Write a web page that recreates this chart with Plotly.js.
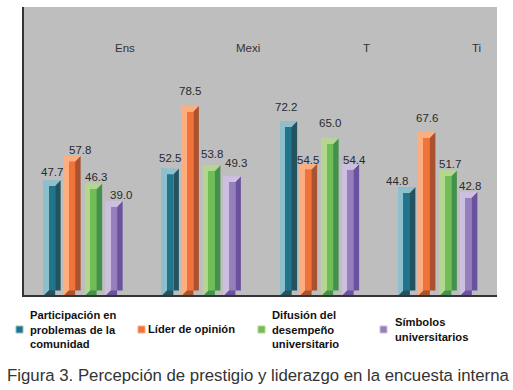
<!DOCTYPE html>
<html><head><meta charset="utf-8">
<script src="https://cdn.plot.ly/plotly-3.0.1.min.js"></script>
<style>html,body{margin:0;padding:0;background:#fff}</style></head>
<body><div id="chart" style="width:513px;height:390px"></div>
<script>
const categories = ['Ens', 'Mexi', 'T', 'Ti'];
const participacion = [47.7, 52.5, 72.2, 44.8];
const lider = [57.8, 78.5, 54.5, 67.6];
const difusion = [46.3, 53.8, 65.0, 51.7];
const simbolos = [39.0, 49.3, 54.4, 42.8];
const seriesNames = ['Participación en<br>problemas de la<br>comunidad', 'Líder de opinión', 'Difusión del<br>desempeño<br>universitario', 'Símbolos<br>universitarios'];
const caption = 'Figura 3. Percepción de prestigio y liderazgo en la encuesta interna';

const W = 513, H = 390, L = 24, R = 16, T = 7, B = 95;
const plotW = W - L - R, plotH = H - T - B;
const pxPerUnitY = 2.41, yMax = plotH / pxPerUnitY, pxPerX = plotW / 4;
const ux = p => p / pxPerX, uy = p => p / pxPerUnitY;

const palette = [
  {front:'#20758d', light:'#8dbfcc', dark:'#24525f'},
  {front:'#f1733a', light:'#fbae80', dark:'#a8522f'},
  {front:'#71bd58', light:'#b4d78f', dark:'#44904d'},
  {front:'#957fbc', light:'#cdbfdf', dark:'#6a52a0'}
];
const values = [participacion, lider, difusion, simbolos];
const seriesOffsetPx = [-40, -20, 1.5, 22];
const barW = 17.5, lightW = 5.5, frontW = 6.5, depth = 5.7, floor = 4.5;
const gx = categories.map((c, i) => i);
const traces = [];
const polyTrace = (xs, ys, color) => ({type:'scatter', mode:'none', x:xs, y:ys, fill:'toself', fillcolor:color, hoverinfo:'skip', showlegend:false});

values.forEach((vals, s) => {
  const c = palette[s], x0 = seriesOffsetPx[s];
  traces.push({type:'bar', x:gx, y:vals, base:0, offset:ux(x0), width:ux(lightW + 0.5), marker:{color:c.light, line:{width:0}}, hoverinfo:'skip', showlegend:false});
  traces.push({type:'bar', x:gx, y:vals.map(v => v - uy(depth) - uy(floor)), base:uy(floor), offset:ux(x0 + lightW), width:ux(frontW), marker:{color:c.front, line:{width:0}}, name:seriesNames[s].replace(/<br>/g,' '), showlegend:false});
  let tx = [], ty = [], sx = [], sy = [];
  gx.forEach((g, i) => {
    const v = vals[i], a = g + ux(x0), b = g + ux(x0 + lightW), m = g + ux(x0 + lightW + frontW), e = g + ux(x0 + barW);
    tx.push(a, e, m, b, a, null); ty.push(v, v, v - uy(depth), v - uy(depth), v, null);
    sx.push(e, e, m, m, e, null); sy.push(v, 0, 0, v - uy(depth), v, null);
    sx.push(a + ux(1), e, e, b, a + ux(1), null); sy.push(0, 0, uy(floor), uy(floor), 0, null);
  });
  traces.push(polyTrace(sx, sy, c.dark));
  traces.push(polyTrace(tx, ty, c.light));
});

// value-label nudges relative to the bar centre / top
const labelDx = [[0,0,-2,-10],[8,0,0,0],[3,0,0,2],[7,4,4,1]];
const labelDy = [[8,10,14,6],[6,15,4,14],[6,11,15,6],[6,13,4,6]];
const annotations = [];
values.forEach((vals, s) => vals.forEach((v, i) => annotations.push({
  xref:'x', yref:'y', x:gx[i] + ux(seriesOffsetPx[s] + barW / 2), y:v,
  text:v.toFixed(1), showarrow:false, xanchor:'center', yanchor:'middle',
  xshift:labelDx[s][i], yshift:labelDy[s][i],
  font:{family:'Liberation Sans, Arial, sans-serif', size:11.5, color:'#2a2a2a'}
})));
const categoryPx = [125, 248, 366, 476];
categories.forEach((c, i) => annotations.push({
  xref:'paper', yref:'paper', x:(categoryPx[i] - L) / plotW, y:(H - B - 48) / plotH,
  text:c, showarrow:false, xanchor:'center', yanchor:'middle',
  font:{family:'Liberation Sans, Arial, sans-serif', size:11.5, color:'#333'}
}));
const px = x => (x - L) / plotW, py = y => (H - B - y) / plotH;
const legendTextX = [28, 146, 270, 393], legendY = [329, 329, 329, 329];
seriesNames.forEach((n, i) => annotations.push({
  xref:'paper', yref:'paper', x:px(legendTextX[i]), y:py(legendY[i]), text:'<b>' + n + '</b>',
  showarrow:false, xanchor:'left', yanchor:'middle', align:'left',
  font:{family:'Liberation Sans, Arial, sans-serif', size:11.2, color:'#111'}
}));
annotations.push({xref:'paper', yref:'paper', x:px(5), y:py(375), text:caption, showarrow:false,
  xanchor:'left', yanchor:'middle', font:{family:'Liberation Sans, Arial, sans-serif', size:16.8, color:'#333'}});

const keyX = [16, 138, 258, 380];
const shapes = [];
palette.forEach((c, i) => {
  shapes.push({type:'rect', xref:'paper', yref:'paper', x0:px(keyX[i]), x1:px(keyX[i] + 7), y0:py(333), y1:py(326), fillcolor:c.front, line:{color:c.light, width:1}, layer:'above'});
});

Plotly.newPlot('chart', traces, {
  width:W, height:H, margin:{l:L, r:R, t:T, b:B},
  paper_bgcolor:'#fff', plot_bgcolor:'#bebebe', barmode:'overlay', bargap:0, showlegend:false,
  xaxis:{type:'linear', range:[-0.5, 3.5], showgrid:false, zeroline:false, showticklabels:false, ticks:'', showline:true, linecolor:'#333', linewidth:2, fixedrange:true},
  yaxis:{range:[0, yMax], showgrid:false, zeroline:false, showticklabels:false, ticks:'', showline:true, linecolor:'#333', linewidth:2, fixedrange:true},
  annotations, shapes
}, {displayModeBar:false, staticPlot:true});
</script></body></html>
